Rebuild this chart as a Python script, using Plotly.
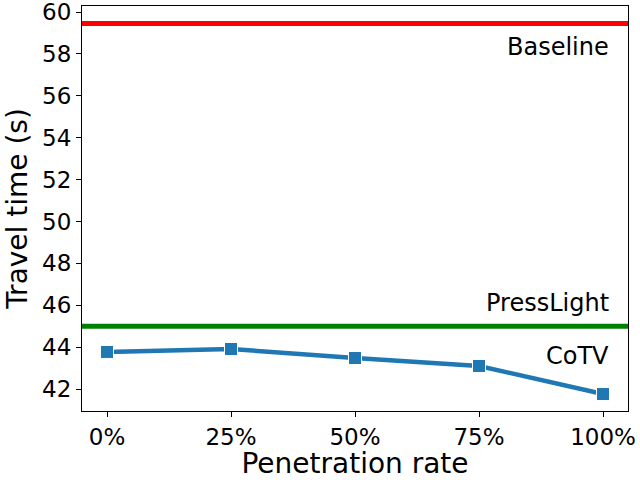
import plotly.graph_objects as go

# data
rates = [0, 25, 50, 75, 100]
tick_text = ["0%", "25%", "50%", "75%", "100%"]
cotv_time = [43.77, 43.91, 43.48, 43.10, 41.76]
baseline_time = 59.45
presslight_time = 45.0

FONT = "DejaVu Sans"

fig = go.Figure()

# horizontal reference lines
fig.add_hline(y=baseline_time, line=dict(color="#ff0000", width=5))
fig.add_hline(y=presslight_time, line=dict(color="#008000", width=5))

fig.add_trace(go.Scatter(
    x=rates, y=cotv_time,
    mode="lines+markers",
    line=dict(color="#1f77b4", width=4.5),
    marker=dict(symbol="square", size=13, color="#1f77b4",
                line=dict(color="white", width=1)),
    showlegend=False,
))

# labels on the right
for txt, yv in [("Baseline", 58.34), ("PressLight", 46.1), ("CoTV", 43.6)]:
    fig.add_annotation(x=101.6, y=yv, text=txt, showarrow=False,
                       xanchor="right", yanchor="middle",
                       font=dict(family=FONT, size=24, color="black"))

axis_style = dict(
    showline=True, mirror=True, linecolor="black", linewidth=1,
    ticks="outside", ticklen=5, tickcolor="black",
    showgrid=False, zeroline=False, automargin=False,
    ticklabeloverflow="allow",
    tickfont=dict(family=FONT, size=23, color="black"),
)

fig.update_xaxes(
    range=[-5.04, 105.04], tickvals=rates, ticktext=tick_text,
    title=dict(text="Penetration rate", font=dict(family=FONT, size=28, color="black"), standoff=2),
    **axis_style,
)
fig.update_yaxes(
    range=[40.95, 60.29], tickvals=list(range(42, 61, 2)),
    title=dict(text="Travel time (s)", font=dict(family=FONT, size=28, color="black"), standoff=6),
    **axis_style,
)

fig.update_layout(
    width=640, height=480,
    margin=dict(l=82, r=12, t=6, b=69),
    paper_bgcolor="white", plot_bgcolor="white",
    font=dict(family=FONT),
)

# page body has a default 8px margin; drop it so the figure sits at the corner
fig.write_html("out.html", config={"displayModeBar": False},
               post_script="document.body.style.margin='0';")
